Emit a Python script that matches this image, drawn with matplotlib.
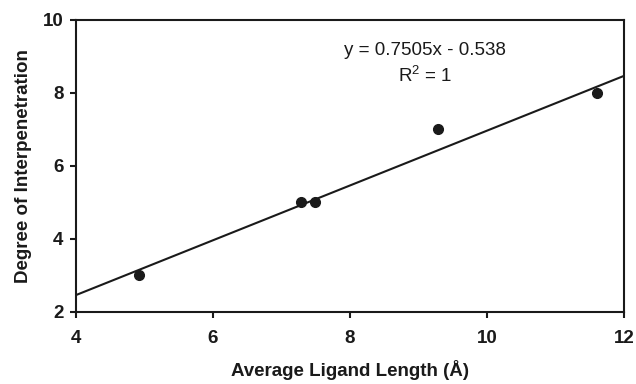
import numpy as np
import matplotlib
matplotlib.use("Agg")
from matplotlib import pyplot as plt

plt.rcParams['font.family'] = ['Liberation Sans', 'DejaVu Sans']

# data
ligand_length = [4.92, 7.28, 7.49, 9.28, 11.6]
interpenetration = [3, 5, 5, 7, 8]
slope = 0.7505
intercept = -0.538
x_ticks = [4, 6, 8, 10, 12]
y_ticks = [2, 4, 6, 8, 10]

fig = plt.figure(figsize=(6.36, 3.84), dpi=100)
ax = fig.add_axes([0.1195, 0.1875, 0.8615, 0.7605])

# trend line across the whole axis
xl = np.array([4, 12])
ax.plot(xl, slope * xl + intercept, color='#1a1a1a', lw=1.5)
ax.plot(ligand_length, interpenetration, 'o', color='#1a1a1a', ms=7)

ax.set_xlim(4, 12)
ax.set_ylim(2, 10)
ax.set_xticks(x_ticks)
ax.set_yticks(y_ticks)
for s in ax.spines.values():
    s.set_linewidth(1.5)
    s.set_color('#1a1a1a')
ax.tick_params(direction='out', length=4, width=1.5, color='#1a1a1a', labelsize=13.5, pad=5)
ax.tick_params(axis='x', pad=9)
for lab in ax.get_xticklabels() + ax.get_yticklabels():
    lab.set_fontweight('bold')
    lab.set_color('#1a1a1a')

ax.set_xlabel('Average Ligand Length (Å)', fontsize=13.5, fontweight='bold', labelpad=9, color='#1a1a1a')
ax.set_ylabel('Degree of Interpenetration', fontsize=13.5, fontweight='bold', labelpad=8, color='#1a1a1a')

ax.text(9.1, 8.79, 'y = 0.7505x - 0.538\n$\\mathregular{R^2}$ = 1', ha='center', va='center',
        fontsize=13.5, linespacing=1.45, color='#1a1a1a')

fig.savefig('out.png', dpi=100)
